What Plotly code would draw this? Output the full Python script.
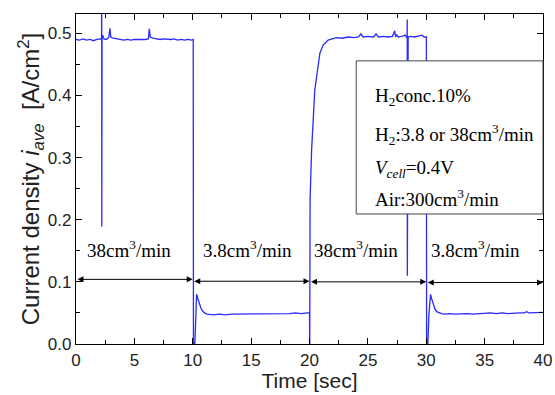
import plotly.graph_objects as go

# ---- data ----
time_s = [
    0.0, 0.3, 0.6, 0.9, 1.2, 1.5, 1.8, 2.1, 2.19, 2.2, 2.21, 2.23, 2.28, 2.4, 2.6, 2.8, 2.91, 2.98, 3.2, 3.5,
    3.8, 4.1, 4.4, 4.7, 5.0, 5.3, 5.6, 5.9, 6.2, 6.28, 6.36, 6.6, 6.9, 7.2, 7.5, 7.8, 8.1, 8.4, 8.7, 9.0,
    9.3, 9.6, 9.9, 10.04,
    10.06, 10.18, 10.24, 10.33, 10.42, 10.55, 10.7, 10.85, 11.0, 11.2, 11.47, 11.8, 12.3, 12.8, 13.3, 13.8,
    14.3, 14.8, 15.3, 15.8, 16.3, 16.8, 17.3, 17.8, 18.3, 18.8, 19.3, 19.8, 20.0,
    20.02, 20.05, 20.18, 20.32, 20.45, 20.61, 20.75, 20.89, 21.17, 21.6, 22.3, 22.8, 23.3, 23.8, 24.2, 24.4,
    24.6, 25.0, 25.5, 25.7, 25.9, 26.3, 26.7, 27.1, 27.3, 27.38, 27.45, 27.6, 27.9, 28.2, 28.3, 28.36, 28.37,
    28.38, 28.45, 28.7, 29.0, 29.3, 29.65, 29.8, 30.01,
    30.03, 30.14, 30.22, 30.37, 30.46, 30.6, 30.75, 30.9, 31.1, 31.3, 31.6, 32.0, 32.5, 33.0, 33.5, 34.0,
    34.5, 35.0, 35.5, 36.0, 36.5, 37.0, 37.5, 38.0, 38.4, 38.6, 38.8, 39.2, 39.6, 40.0,
]
current_density = [
    0.490, 0.489, 0.491, 0.489, 0.490, 0.488, 0.490, 0.491, 0.490, 0.600, 0.189, 0.490, 0.497, 0.491, 0.490, 0.493, 0.508, 0.494, 0.492, 0.491,
    0.490, 0.489, 0.490, 0.489, 0.490, 0.490, 0.489, 0.490, 0.491, 0.507, 0.494, 0.492, 0.491, 0.490, 0.491, 0.490, 0.490, 0.491, 0.489, 0.490,
    0.489, 0.490, 0.489, 0.490,
    0.000, 0.000, 0.045, 0.080, 0.074, 0.065, 0.058, 0.053, 0.050, 0.048, 0.047, 0.047, 0.048, 0.047, 0.048, 0.048,
    0.048, 0.049, 0.048, 0.049, 0.048, 0.049, 0.049, 0.048, 0.049, 0.050, 0.049, 0.050, 0.050,
    0.000, 0.232, 0.312, 0.377, 0.408, 0.430, 0.452, 0.468, 0.481, 0.489, 0.493, 0.492, 0.494, 0.493, 0.494, 0.499,
    0.494, 0.495, 0.494, 0.499, 0.494, 0.495, 0.494, 0.495, 0.504, 0.494, 0.498, 0.494, 0.495, 0.497, 0.494, 0.495, 0.522,
    0.110, 0.494, 0.495, 0.494, 0.495, 0.497, 0.494, 0.494,
    0.000, 0.000, 0.045, 0.080, 0.073, 0.063, 0.056, 0.052, 0.050, 0.049, 0.048, 0.049, 0.048, 0.049, 0.049, 0.048,
    0.049, 0.049, 0.050, 0.049, 0.050, 0.049, 0.050, 0.050, 0.050, 0.052, 0.050, 0.050, 0.051, 0.051,
]

flow_segments = [(0, 10), (10, 20), (20, 30), (30, 40)]
flow_arrow_y = [0.104, 0.101, 0.100, 0.099]
flow_labels = ["38cm<sup>3</sup>/min", "3.8cm<sup>3</sup>/min", "38cm<sup>3</sup>/min", "3.8cm<sup>3</sup>/min"]
flow_label_x = [4.5, 14.7, 24.0, 34.2]
flow_label_y = 0.153

info_lines = [
    "H<sub>2</sub>conc.10%",
    "H<sub>2</sub>:3.8 or 38cm<sup>3</sup>/min",
    "<i>V</i><sub><i>cell</i></sub>=0.4V",
    "Air:300cm<sup>3</sup>/min",
]
info_y = [0.748, 0.636, 0.53, 0.442]

fig = go.Figure()
fig.add_trace(go.Scatter(x=time_s, y=current_density, mode="lines",
                         line=dict(color="#2a2aff", width=1.3), showlegend=False))

annotations = []
for (x0, x1), ya in zip(flow_segments, flow_arrow_y):
    annotations.append(dict(x=x1, y=ya, ax=x0, ay=ya, xref="x", yref="y", axref="x", ayref="y",
                            text="", showarrow=True, arrowside="end+start", arrowhead=2, startarrowhead=2,
                            arrowsize=1.2, startarrowsize=1.2, arrowwidth=1, arrowcolor="black"))
for lab, lx in zip(flow_labels, flow_label_x):
    annotations.append(dict(x=lx, y=flow_label_y, xref="x", yref="y", text=lab, showarrow=False,
                            font=dict(family="Liberation Serif", size=19, color="black")))
for line, ly in zip(info_lines, info_y):
    annotations.append(dict(x=0.636, y=ly, xref="paper", yref="paper", text=line, showarrow=False,
                            xanchor="left", yanchor="middle",
                            font=dict(family="Liberation Serif", size=19, color="black")))

fig.update_layout(
    width=555, height=395,
    margin=dict(l=76, r=12, t=14, b=51),
    paper_bgcolor="white", plot_bgcolor="white",
    annotations=annotations,
    shapes=[dict(type="rect", xref="paper", yref="paper", x0=0.6, x1=1.0, y0=0.394, y1=0.858,
                 fillcolor="white", line=dict(color="#444444", width=1), layer="above")],
    xaxis=dict(range=[0, 40], dtick=5, showline=True, linecolor="black", linewidth=1.2, mirror="ticks",
               ticks="inside", ticklen=6, tickcolor="black", showgrid=False, zeroline=False, automargin=False,
               minor=dict(dtick=2.5, ticks="inside", ticklen=3.5, tickcolor="black"),
               tickfont=dict(family="Liberation Sans", size=17, color="#222"),
               title=dict(text="Time [sec]", font=dict(family="Liberation Sans", size=21, color="#222"), standoff=2)),
    yaxis=dict(range=[0, 0.531], dtick=0.1, tickformat=".1f", showline=True, linecolor="black", linewidth=1.2,
               mirror="ticks", ticks="inside", ticklen=6, tickcolor="black", showgrid=False, zeroline=False,
               automargin=False,
               minor=dict(dtick=0.05, ticks="inside", ticklen=3.5, tickcolor="black"),
               tickfont=dict(family="Liberation Sans", size=17, color="#222"),
               title=dict(text="Current density <i>i<sub>ave</sub></i>  [A/cm<sup>2</sup>]",
                          font=dict(family="Liberation Sans", size=24, color="#222"), standoff=0)),
)

fig.write_html("out.html")
